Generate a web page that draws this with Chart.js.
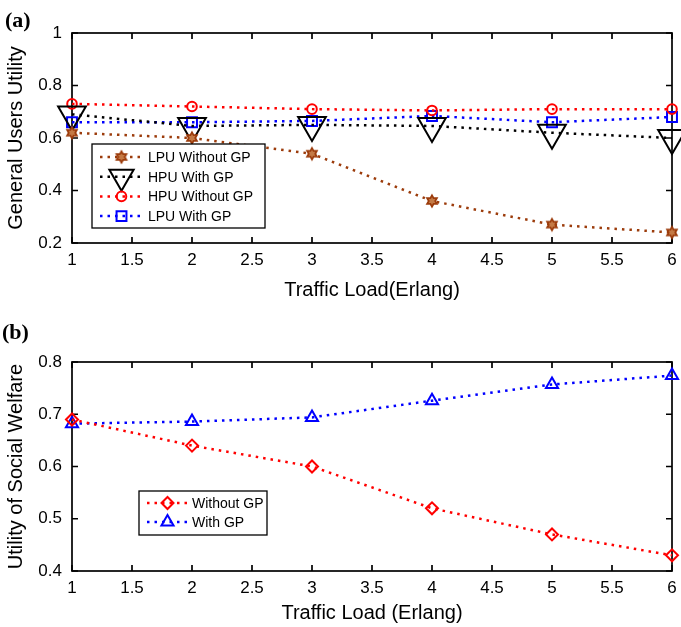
<!DOCTYPE html>
<html><head><meta charset="utf-8">
<script src="https://cdn.jsdelivr.net/npm/chart.js@4/dist/chart.umd.min.js"></script>
<style>
html,body{margin:0;padding:0;background:#fff;}
body{width:681px;height:627px;position:relative;overflow:hidden;}
.wrap{position:absolute;left:0;width:681px;}
#wa{top:0;height:305px;}
#wb{top:305px;height:322px;}
.lab{position:absolute;font-family:"Liberation Serif","Times New Roman",serif;font-weight:bold;font-size:22px;line-height:1;color:#000;}
</style></head>
<body>
<div class="wrap" id="wa"><canvas id="ca" width="681" height="305"></canvas></div>
<div class="wrap" id="wb"><canvas id="cb" width="681" height="322"></canvas></div>
<div class="lab" style="left:5px;top:9px">(a)</div>
<div class="lab" style="left:2px;top:321px">(b)</div>
<script>
// ---- data ----
const trafficLoad = [1, 2, 3, 4, 5, 6];
const lpuWithoutGP = [0.62, 0.60, 0.54, 0.36, 0.27, 0.24];
const hpuWithGP = [0.69, 0.646, 0.65, 0.646, 0.62, 0.60];
const hpuWithoutGP = [0.73, 0.72, 0.71, 0.705, 0.71, 0.71];
const lpuWithGP = [0.66, 0.66, 0.665, 0.684, 0.66, 0.68];
const welfareWithoutGP = [0.69, 0.64, 0.60, 0.52, 0.47, 0.43];
const welfareWithGP = [0.682, 0.686, 0.694, 0.726, 0.757, 0.774];
const xTickValues = [1, 1.5, 2, 2.5, 3, 3.5, 4, 4.5, 5, 5.5, 6];
const xTickLabels = ['1', '1.5', '2', '2.5', '3', '3.5', '4', '4.5', '5', '5.5', '6'];
const yTickValuesA = [0.2, 0.4, 0.6, 0.8, 1];
const yTickLabelsA = ['0.2', '0.4', '0.6', '0.8', '1'];
const yTickValuesB = [0.4, 0.5, 0.6, 0.7, 0.8];
const yTickLabelsB = ['0.4', '0.5', '0.6', '0.7', '0.8'];

const FONT = '"Liberation Sans", Arial, sans-serif';
const BROWN = '#9c3c0c';
const DASH = [2.5, 5];

function hexagram(color) {
  const c = document.createElement('canvas');
  c.width = 16; c.height = 16;
  const g = c.getContext('2d');
  const cx = 8, cy = 8, R = 5.6, r = R / Math.sqrt(3);
  g.beginPath();
  for (let i = 0; i < 12; i++) {
    const ang = -Math.PI / 2 + i * Math.PI / 6;
    const rad = (i % 2) ? r : R;
    const px = cx + Math.cos(ang) * rad, py = cy + Math.sin(ang) * rad;
    if (i === 0) g.moveTo(px, py); else g.lineTo(px, py);
  }
  g.closePath();
  g.fillStyle = '#c47a45'; g.fill();
  g.lineWidth = 1.8; g.strokeStyle = color; g.stroke();
  return c;
}
const hexImg = hexagram(BROWN);

function pts(ys) { return trafficLoad.map((x, i) => ({ x: x, y: ys[i] })); }

function ds(label, ys, color, style, radius, rot, legendRadius) {
  return {
    label: label, data: pts(ys), borderColor: color, backgroundColor: 'rgba(0,0,0,0)',
    borderDash: DASH, borderWidth: 2.5, borderCapStyle: 'butt', tension: 0,
    pointStyle: style, pointRadius: radius, pointRotation: rot || 0,
    pointBorderColor: color, pointBackgroundColor: 'rgba(0,0,0,0)', pointBorderWidth: 2,
    clip: false, fill: false, legendRadius: legendRadius || radius
  };
}

const framePlugin = {
  id: 'frame',
  beforeDatasetsDraw(chart) {
    const { ctx, chartArea: a, scales: { x, y } } = chart;
    ctx.save();
    ctx.strokeStyle = '#000'; ctx.lineWidth = 1.7;
    ctx.strokeRect(a.left, a.top, a.right - a.left, a.bottom - a.top);
    const L = 6;
    ctx.beginPath();
    x.ticks.forEach(t => {
      const p = x.getPixelForValue(t.value);
      ctx.moveTo(p, a.bottom); ctx.lineTo(p, a.bottom - L);
      ctx.moveTo(p, a.top); ctx.lineTo(p, a.top + L);
    });
    y.ticks.forEach(t => {
      const p = y.getPixelForValue(t.value);
      ctx.moveTo(a.left, p); ctx.lineTo(a.left + L, p);
      ctx.moveTo(a.right, p); ctx.lineTo(a.right - L, p);
    });
    ctx.stroke();
    ctx.restore();
  }
};

const boxLegend = {
  id: 'boxLegend',
  afterDraw(chart, args, o) {
    if (!o || !o.order) return;
    const ctx = chart.ctx;
    ctx.save();
    ctx.fillStyle = '#fff'; ctx.fillRect(o.x, o.y, o.w, o.h);
    ctx.lineWidth = 1.3; ctx.strokeStyle = '#000'; ctx.strokeRect(o.x, o.y, o.w, o.h);
    o.order.forEach((di, i) => {
      const d = chart.data.datasets[di];
      const yy = o.y + o.first + i * o.step;
      ctx.beginPath();
      ctx.setLineDash(d.borderDash); ctx.lineWidth = d.borderWidth; ctx.strokeStyle = d.borderColor;
      ctx.moveTo(o.lx0, yy); ctx.lineTo(o.lx1, yy); ctx.stroke();
      ctx.setLineDash([]);
      ctx.fillStyle = 'rgba(0,0,0,0)'; ctx.strokeStyle = d.pointBorderColor; ctx.lineWidth = d.pointBorderWidth;
      Chart.helpers.drawPoint(ctx, { pointStyle: d.pointStyle, radius: d.legendRadius, rotation: d.pointRotation, borderWidth: d.pointBorderWidth }, (o.lx0 + o.lx1) / 2, yy);
      ctx.fillStyle = '#000'; ctx.font = '14px ' + FONT; ctx.textBaseline = 'middle'; ctx.textAlign = 'left';
      ctx.fillText(d.label, o.tx, yy + 1);
    });
    ctx.restore();
  }
};

function makeOptions(cfg) {
  return {
    responsive: false, animation: false, devicePixelRatio: 1,
    layout: { autoPadding: false, padding: { left: 0, right: 9, top: cfg.top, bottom: 0 } },
    plugins: { legend: { display: false }, tooltip: { enabled: false }, boxLegend: cfg.legend },
    scales: {
      x: {
        type: 'linear', min: 1, max: 6,
        afterBuildTicks: s => { s.ticks = xTickValues.map(v => ({ value: v })); },
        afterFit: s => { s.height = cfg.xh; s.paddingLeft = 0; s.paddingRight = 0; },
        grid: { display: false, drawTicks: false }, border: { display: false },
        ticks: { color: '#000', font: { family: FONT, size: 17 }, padding: 7, maxRotation: 0, autoSkip: false,
          callback: (v, i) => xTickLabels[i] },
        title: { display: true, text: cfg.xTitle, color: '#000', font: { family: FONT, size: 20 }, padding: { top: 0, bottom: cfg.xtp } }
      },
      y: {
        type: 'linear', min: cfg.ymin, max: cfg.ymax,
        afterBuildTicks: s => { s.ticks = cfg.yVals.map(v => ({ value: v })); },
        afterFit: s => { s.width = 72; s.paddingTop = 0; s.paddingBottom = 0; },
        grid: { display: false, drawTicks: false }, border: { display: false },
        ticks: { color: '#000', font: { family: FONT, size: 17 }, padding: 10, autoSkip: false,
          callback: (v, i) => cfg.yLabs[i] },
        title: { display: true, text: cfg.yTitle, color: '#000', font: { family: FONT, size: 20 }, padding: { top: 4, bottom: 0 } }
      }
    }
  };
}

new Chart(document.getElementById('ca'), {
  type: 'line',
  data: {
    datasets: [
      ds('LPU Without GP', lpuWithoutGP, BROWN, hexImg, 5),
      ds('HPU With GP', hpuWithGP, '#000', 'triangle', 16, 180, 14),
      ds('HPU Without GP', hpuWithoutGP, '#ff0000', 'circle', 4.8),
      ds('LPU With GP', lpuWithGP, '#0000ff', 'rect', 7)
    ]
  },
  options: makeOptions({
    top: 33, xh: 62, xtp: 3, ymin: 0.2, ymax: 1, yVals: yTickValuesA, yLabs: yTickLabelsA,
    xTitle: 'Traffic Load(Erlang)', yTitle: 'General Users Utility',
    legend: { order: [0, 1, 2, 3], x: 92, y: 144, w: 173, h: 84, first: 13, step: 19.7, lx0: 100, lx1: 143, tx: 148 }
  }),
  plugins: [framePlugin, boxLegend]
});

new Chart(document.getElementById('cb'), {
  type: 'line',
  data: {
    datasets: [
      ds('Without GP', welfareWithoutGP, '#ff0000', 'rectRot', 6),
      ds('With GP', welfareWithGP, '#0000ff', 'triangle', 7)
    ]
  },
  options: makeOptions({
    top: 57, xh: 56, xtp: 2, ymin: 0.4, ymax: 0.8, yVals: yTickValuesB, yLabs: yTickLabelsB,
    xTitle: 'Traffic Load (Erlang)', yTitle: 'Utility of Social Welfare',
    legend: { order: [0, 1], x: 139, y: 186, w: 128, h: 44, first: 12, step: 19, lx0: 147, lx1: 188, tx: 192 }
  }),
  plugins: [framePlugin, boxLegend]
});
</script>
</body></html>
